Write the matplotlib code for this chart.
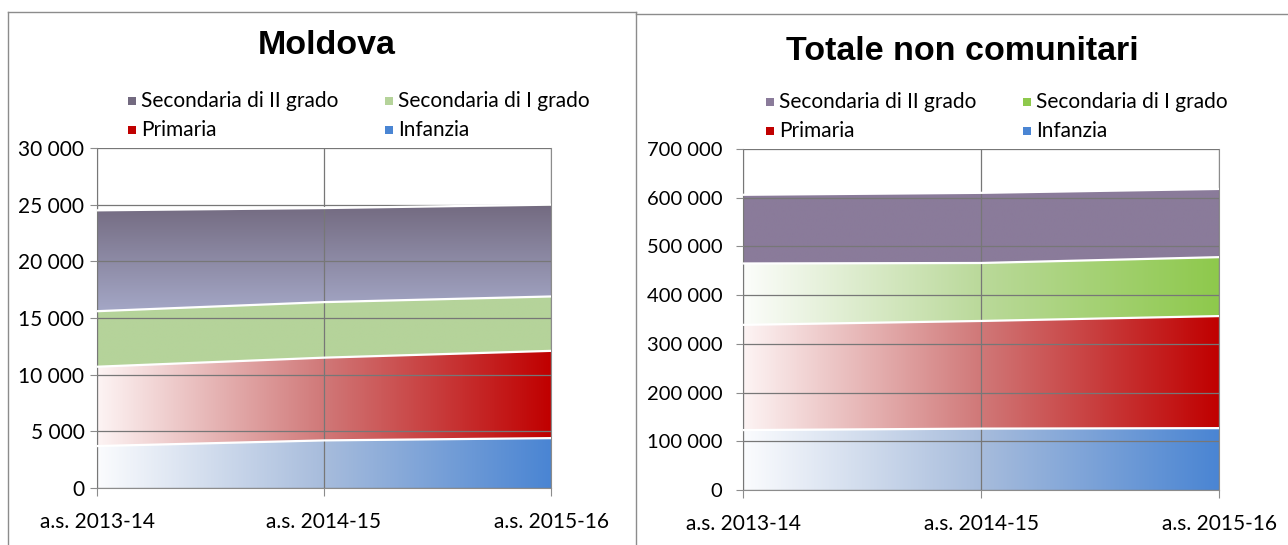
import numpy as np
import matplotlib
matplotlib.use("Agg")
import matplotlib.pyplot as plt
from matplotlib.colors import LinearSegmentedColormap
from matplotlib.patches import PathPatch, Rectangle
from matplotlib.lines import Line2D
from matplotlib.ticker import FuncFormatter, MultipleLocator

# data (students by school level)
years = ["a.s. 2013-14", "a.s. 2014-15", "a.s. 2015-16"]
series = ["Infanzia", "Primaria", "Secondaria di I grado", "Secondaria di II grado"]

moldova_infanzia = [3700, 4200, 4400]
moldova_primaria = [7000, 7300, 7700]
moldova_sec1 = [4900, 4900, 4800]
moldova_sec2 = [8900, 8300, 8100]

tot_infanzia = [123000, 126000, 127000]
tot_primaria = [216000, 221000, 230000]
tot_sec1 = [126000, 119000, 121000]
tot_sec2 = [141000, 144000, 140000]

plt.rcParams['font.family'] = ['Lato', 'DejaVu Sans']

fig = plt.figure(figsize=(12.88, 5.45), dpi=100)

# panel borders
grey = '#8c8c8c'
for xy in [((8, 8), (12, 545)), ((8, 636), (12, 12)), ((636, 636), (12, 545)), ((636, 1288), (14, 14))]:
    xs = [v / 1288 for v in xy[0]]
    ys = [1 - v / 545 for v in xy[1]]
    fig.add_artist(Line2D(xs, ys, color=grey, lw=1))


def space_fmt(v, pos):
    return f"{int(v):,}".replace(",", " ")


def grad_fill(ax, x, lo, hi, colors, vertical=False):
    poly = ax.fill_between(x, lo, hi, facecolor='none', edgecolor='none')
    patch = PathPatch(poly.get_paths()[0], transform=ax.transData,
                      facecolor='none', edgecolor='none')
    ax.add_patch(patch)
    cmap = LinearSegmentedColormap.from_list('g', colors)
    g = np.linspace(0, 1, 256)
    if vertical:
        img = g.reshape(-1, 1)
        ext = [x[0], x[-1], min(lo), max(hi)]
    else:
        img = g.reshape(1, -1)
        ext = [x[0], x[-1], 0, max(hi)]
    im = ax.imshow(img, extent=ext, aspect='auto', cmap=cmap, origin='lower', zorder=2,
                   interpolation='bilinear')
    im.set_clip_path(patch)
    ax.plot(x, hi, color='white', lw=1.6, zorder=3)


def draw_panel(rect, vals, styles, ymax, step, title, title_xy, leg_x, leg_y, ypad, ysize):
    ax = fig.add_axes(rect)
    x = np.arange(len(years))
    base = np.zeros(len(years))
    for v, st in zip(vals, styles):
        top = base + np.array(v)
        grad_fill(ax, x, base, top, st[0], vertical=st[1])
        base = top
    ax.set_xlim(0, 2)
    ax.set_ylim(0, ymax)
    ax.yaxis.set_major_locator(MultipleLocator(step))
    ax.yaxis.set_major_formatter(FuncFormatter(space_fmt))
    ax.set_xticks(x)
    ax.set_xticklabels(years)
    ax.grid(True, color='#777777', lw=0.9)
    ax.set_axisbelow(False)
    for s in ax.spines.values():
        s.set_color(grey)
    ax.spines['top'].set_visible(False)
    ax.tick_params(axis='y', length=5, color=grey, pad=ypad, labelsize=ysize)
    ax.tick_params(axis='x', length=6, color=grey, pad=11, labelsize=15)

    fig.text(title_xy[0] / 1288, 1 - title_xy[1] / 545, title, ha='center', va='center',
             fontsize=24.5, fontweight='bold', family=['Liberation Sans', 'DejaVu Sans'])

    # legend, two columns
    leg = [(series[3], styles[3][0][-1], 0, 0), (series[2], styles[2][0][-1], 1, 0),
           (series[1], styles[1][0][-1], 0, 1), (series[0], styles[0][0][-1], 1, 1)]
    for name, col, c, r in leg:
        lx = leg_x[c]
        ly = leg_y[r]
        fig.add_artist(Rectangle(((lx - 13) / 1288, 1 - (ly + 4) / 545), 8 / 1288, 8 / 545,
                                 transform=fig.transFigure, color=col, lw=0))
        fig.text(lx / 1288, 1 - ly / 545, name, ha='left', va='center', fontsize=15)
    return ax


left_styles = [
    (['#fbfcfe', '#a7bcdc', '#4a85d3'], False),
    (['#fdf4f4', '#d07878', '#c00000'], False),
    (['#b5d39a', '#b5d39a'], False),
    (['#a4a7c6', '#736a80'], True),
]
right_styles = [
    (['#fbfcfe', '#a7bcdc', '#4a85d3'], False),
    (['#fdf4f4', '#d07878', '#c00000'], False),
    (['#fcfdfb', '#bad99a', '#8ec94c'], False),
    (['#8a7b9a', '#8a7b9a'], False),
]

draw_panel([97 / 1288, 1 - 488 / 545, 454 / 1288, 340 / 545],
           [moldova_infanzia, moldova_primaria, moldova_sec1, moldova_sec2],
           left_styles, 30000, 5000, "Moldova", (327, 45), (141, 398), (101, 130), 4, 15)

draw_panel([743 / 1288, 1 - 490 / 545, 476 / 1288, 341 / 545],
           [tot_infanzia, tot_primaria, tot_sec1, tot_sec2],
           right_styles, 700000, 100000, "Totale non comunitari", (962, 52), (779, 1036), (102, 131), 10, 14.5)

fig.savefig("out.png", dpi=100)
